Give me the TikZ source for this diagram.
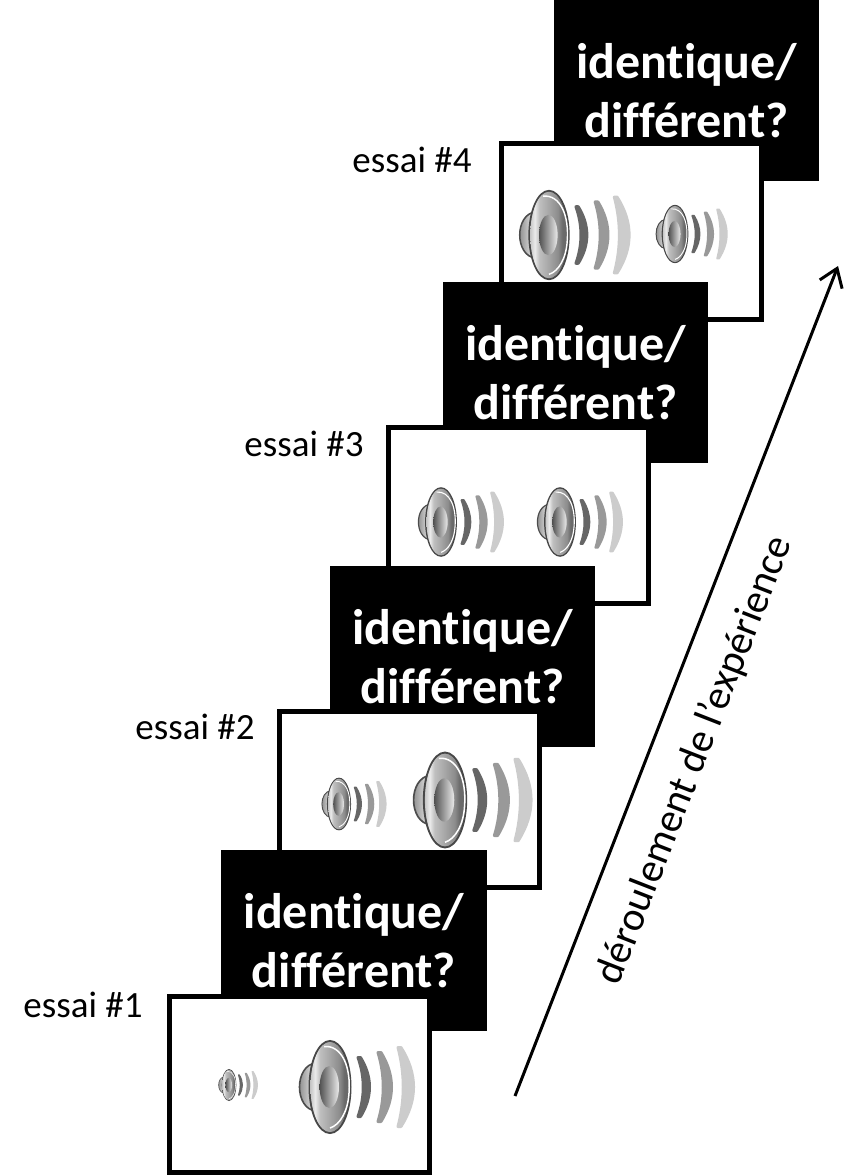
\documentclass[tikz,border=0pt]{standalone}
\usepackage{fontspec}
\setmainfont[Ligatures=NoCommon]{Carlito}
\usetikzlibrary{arrows.meta}
\pgfdeclarehorizontalshading{spkcone}{100bp}{color(0bp)=(black!22); color(25bp)=(black!22); color(31bp)=(black!8); color(37bp)=(black!25); color(50bp)=(black!35); color(62bp)=(black!45); color(68bp)=(black!58); color(75bp)=(black!60); color(100bp)=(black!60)}
\tikzset{
  blackbox/.style={fill=black,text=white,inner sep=0pt,minimum width=265.5pt,minimum height=181pt,align=center,
    font=\fontsize{50}{59.5}\selectfont\bfseries},
  whitebox/.style={draw=black,fill=white,line width=5pt,inner sep=0pt,minimum width=260pt,minimum height=176pt},
  trial/.style={inner sep=0pt,font=\fontsize{37}{44}\selectfont},
  speaker/.pic={
    \def\k{#1}
    % sound waves: filled crescents with rounded tips
    \path[fill=black!20,draw=black!20,line join=round,line width=\k*3pt]
      (71,-39.5) .. controls (87.7,-13) and (87.7,13) .. (71,39.5) -- (68,39.5) .. controls (75,13) and (75,-13) .. (68,-39.5) -- cycle;
    \path[fill=black!40,draw=black!40,line join=round,line width=\k*3pt]
      (51,-34.5) .. controls (65,-11.5) and (65,11.5) .. (51,34.5) -- (48,34.5) .. controls (55,11.5) and (55,-11.5) .. (48,-34.5) -- cycle;
    \path[fill=black!60,draw=black!60,line join=round,line width=\k*3pt]
      (30.5,-29.5) .. controls (42.5,-10) and (42.5,10) .. (30.5,29.5) -- (28,29.5) .. controls (35,10) and (35,-10) .. (28,-29.5) -- cycle;
    % back of the driver
    \path[draw=black!70,line width=\k*1.6pt,left color=black!55,right color=black!5]
      (-14,-24) .. controls (-36,-22) and (-36,22) .. (-14,24) -- cycle;
    % basket and cone
    \path[draw=black!72,line width=\k*2pt,fill=black!45]
      (0,0) ellipse [x radius=20.5,y radius=46];
    \path[shading=spkcone]
      (0,0) ellipse [x radius=19.5,y radius=45];
    \draw[white,line width=\k*1.5pt] (-6,-40.5) .. controls (12,-42) and (21,-20) .. (19,6) .. controls (18,24) and (10,38) .. (0,41);
    \path[left color=black!68,right color=black!8]
      (-0.7,0) ellipse [x radius=9.7,y radius=21];
  }
}
\begin{document}
\begin{tikzpicture}[x=1pt,y=-1pt]
  \useasboundingbox (0,0) rectangle (857,1175);
  % top to bottom so that each lower screen overlaps the one above it
  \node[blackbox] (b4) at (686.5,90.5) {identique/\\différent?};
  \node[whitebox] (w4) at (631,231.5) {};
  \pic at (549,235) [scale=.96] {speaker=.96};
  \pic at (675,234) [scale=.62] {speaker=.62};
  \node[blackbox] (b3) at (575.5,372.5) {identique/\\différent?};
  \node[whitebox] (w3) at (518.5,515.5) {};
  \pic at (441,522) [scale=.74] {speaker=.74};
  \pic at (560,522) [scale=.74] {speaker=.74};
  \node[blackbox] (b2) at (462.5,656.5) {identique/\\différent?};
  \node[whitebox] (w2) at (409.25,799) {};
  \pic at (339,804) [scale=.56] {speaker=.56};
  \pic at (445,800) [scale=1.03] {speaker=1.03};
  \node[blackbox] (b1) at (354,940.5) {identique/\\différent?};
  \node[whitebox] (w1) at (299.5,1084) {};
  \pic at (229,1085) [scale=.34] {speaker=.34};
  \pic at (330,1087) {speaker=1};
  \node[trial] (t1) at (83,1005) {essai \#1};
  \node[trial] (t2) at (195,727) {essai \#2};
  \node[trial] (t3) at (304,444) {essai \#3};
  \node[trial] (t4) at (412,160) {essai \#4};
  \coordinate (arrowstart) at (515,1096);
  \coordinate (arrowend) at (838,266);
  \draw[line width=3pt,-{Straight Barb[length=17pt,width=24pt]}] (arrowstart) -- (arrowend);
  \node[inner sep=0pt,rotate=68.7,font=\fontsize{41}{48}\selectfont] (lab) at (695,760) {déroulement de l’expérience};
\end{tikzpicture}
\end{document}
